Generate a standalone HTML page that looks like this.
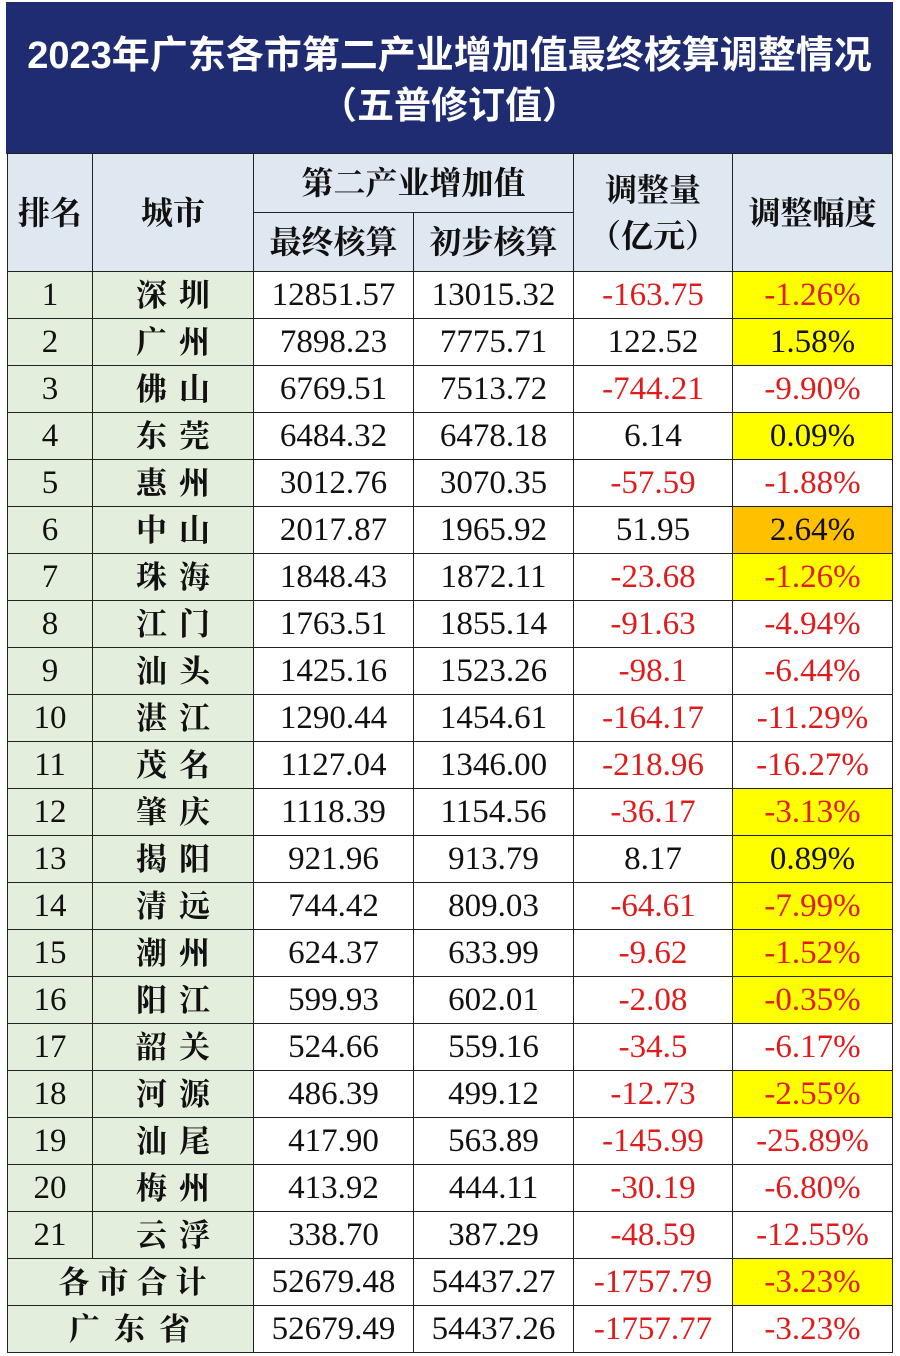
<!DOCTYPE html>
<html><head><meta charset="utf-8"><style>
*{margin:0;padding:0;box-sizing:border-box}
body{width:900px;height:1356px;background:#fff;overflow:hidden;position:relative;font-family:"Liberation Serif","Noto Serif CJK SC",serif}
.title{position:absolute;left:6px;top:2px;width:887px;height:152px;background:#1f2c72;color:#fff;text-align:center;font-family:"Liberation Sans","Noto Sans CJK SC",sans-serif;font-weight:bold;white-space:nowrap}
.t1{position:absolute;top:29px;left:0;width:100%;font-size:38px;line-height:50px}
.t2{position:absolute;top:79px;left:0;width:100%;font-size:37px;line-height:50px}
table{position:absolute;left:7px;top:153px;border-collapse:collapse;table-layout:fixed}
td{border:1.5px solid #222;text-align:center;vertical-align:middle;font-size:33px;line-height:1;color:#111;padding:0;white-space:nowrap;overflow:hidden}
.h{background:#dfe7f1;font-family:"Liberation Serif","Noto Serif CJK SC",serif;font-weight:bold;font-size:32px}
.g{background:#e3efdc}
.c{font-weight:bold;letter-spacing:12px;padding-left:12px;font-size:31px}
.r{color:#e01b1b}
.y{background:#ffff00}
.o{background:#ffc000}
tr.d td{height:47px}
</style></head><body>
<div class="title"><div class="t1">2023年广东各市第二产业增加值最终核算调整情况</div><div class="t2">（五普修订值）</div></div>
<table>
<colgroup><col style="width:85px"><col style="width:161px"><col style="width:160px"><col style="width:160px"><col style="width:159px"><col style="width:160px"></colgroup>
<tr><td class="h" rowspan="2" style="height:118px">排名</td><td class="h" rowspan="2">城市</td><td class="h" colspan="2" style="height:59px">第二产业增加值</td><td class="h" rowspan="2" style="line-height:46px">调整量<br>（亿元）</td><td class="h" rowspan="2">调整幅度</td></tr>
<tr><td class="h" style="height:59px">最终核算</td><td class="h">初步核算</td></tr>
<tr class="d"><td class="g">1</td><td class="g c">深圳</td><td>12851.57</td><td>13015.32</td><td class="r">-163.75</td><td class="r y">-1.26%</td></tr>
<tr class="d"><td class="g">2</td><td class="g c">广州</td><td>7898.23</td><td>7775.71</td><td>122.52</td><td class="y">1.58%</td></tr>
<tr class="d"><td class="g">3</td><td class="g c">佛山</td><td>6769.51</td><td>7513.72</td><td class="r">-744.21</td><td class="r">-9.90%</td></tr>
<tr class="d"><td class="g">4</td><td class="g c">东莞</td><td>6484.32</td><td>6478.18</td><td>6.14</td><td class="y">0.09%</td></tr>
<tr class="d"><td class="g">5</td><td class="g c">惠州</td><td>3012.76</td><td>3070.35</td><td class="r">-57.59</td><td class="r">-1.88%</td></tr>
<tr class="d"><td class="g">6</td><td class="g c">中山</td><td>2017.87</td><td>1965.92</td><td>51.95</td><td class="o">2.64%</td></tr>
<tr class="d"><td class="g">7</td><td class="g c">珠海</td><td>1848.43</td><td>1872.11</td><td class="r">-23.68</td><td class="r y">-1.26%</td></tr>
<tr class="d"><td class="g">8</td><td class="g c">江门</td><td>1763.51</td><td>1855.14</td><td class="r">-91.63</td><td class="r">-4.94%</td></tr>
<tr class="d"><td class="g">9</td><td class="g c">汕头</td><td>1425.16</td><td>1523.26</td><td class="r">-98.1</td><td class="r">-6.44%</td></tr>
<tr class="d"><td class="g">10</td><td class="g c">湛江</td><td>1290.44</td><td>1454.61</td><td class="r">-164.17</td><td class="r">-11.29%</td></tr>
<tr class="d"><td class="g">11</td><td class="g c">茂名</td><td>1127.04</td><td>1346.00</td><td class="r">-218.96</td><td class="r">-16.27%</td></tr>
<tr class="d"><td class="g">12</td><td class="g c">肇庆</td><td>1118.39</td><td>1154.56</td><td class="r">-36.17</td><td class="r y">-3.13%</td></tr>
<tr class="d"><td class="g">13</td><td class="g c">揭阳</td><td>921.96</td><td>913.79</td><td>8.17</td><td class="y">0.89%</td></tr>
<tr class="d"><td class="g">14</td><td class="g c">清远</td><td>744.42</td><td>809.03</td><td class="r">-64.61</td><td class="r y">-7.99%</td></tr>
<tr class="d"><td class="g">15</td><td class="g c">潮州</td><td>624.37</td><td>633.99</td><td class="r">-9.62</td><td class="r y">-1.52%</td></tr>
<tr class="d"><td class="g">16</td><td class="g c">阳江</td><td>599.93</td><td>602.01</td><td class="r">-2.08</td><td class="r y">-0.35%</td></tr>
<tr class="d"><td class="g">17</td><td class="g c">韶关</td><td>524.66</td><td>559.16</td><td class="r">-34.5</td><td class="r">-6.17%</td></tr>
<tr class="d"><td class="g">18</td><td class="g c">河源</td><td>486.39</td><td>499.12</td><td class="r">-12.73</td><td class="r y">-2.55%</td></tr>
<tr class="d"><td class="g">19</td><td class="g c">汕尾</td><td>417.90</td><td>563.89</td><td class="r">-145.99</td><td class="r">-25.89%</td></tr>
<tr class="d"><td class="g">20</td><td class="g c">梅州</td><td>413.92</td><td>444.11</td><td class="r">-30.19</td><td class="r">-6.80%</td></tr>
<tr class="d"><td class="g">21</td><td class="g c">云浮</td><td>338.70</td><td>387.29</td><td class="r">-48.59</td><td class="r">-12.55%</td></tr>
<tr class="d"><td class="g c" colspan="2" style="letter-spacing:8px">各市合计</td><td>52679.48</td><td>54437.27</td><td class="r">-1757.79</td><td class="r y">-3.23%</td></tr>
<tr class="d"><td class="g c" colspan="2" style="letter-spacing:14px">广东省</td><td>52679.49</td><td>54437.26</td><td class="r">-1757.77</td><td class="r">-3.23%</td></tr>
</table>
</body></html>
